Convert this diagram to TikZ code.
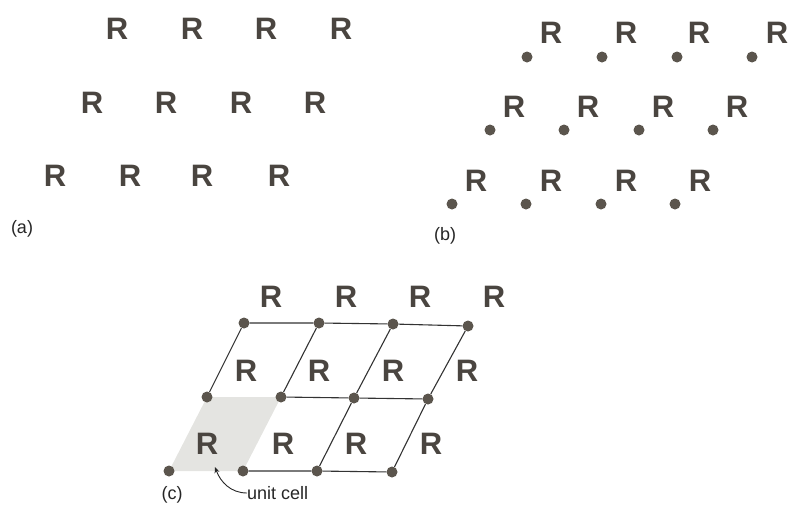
\documentclass[tikz,border=0pt]{standalone}
\usepackage{fontspec}
\setmainfont{Liberation Sans}
\usetikzlibrary{arrows.meta,backgrounds}
\definecolor{ink}{HTML}{4A4540}
\definecolor{dotc}{HTML}{5B554D}
\definecolor{cellfill}{HTML}{E4E4E1}
\begin{document}
\begin{tikzpicture}[x=1pt,y=-1pt,
  motif/.style={font=\bfseries\fontsize{31}{31}\selectfont, text=ink, inner sep=0pt},
  latpt/.style={circle, fill=dotc, minimum size=11pt, inner sep=0pt},
  edge/.style={draw=black!80, line width=1.1pt},
  lbl/.style={font=\fontsize{18}{18}\selectfont, text=black!85, inner sep=0pt}]
\useasboundingbox (0,0) rectangle (797,504);

% (a) the motif alone, repeated
\foreach \x [count=\i] in {117,192,266,341} \node[motif] (ar1\i) at (\x,29) {R};
\foreach \x [count=\i] in {92,166,241,315} \node[motif] (ar2\i) at (\x,103) {R};
\foreach \x [count=\i] in {55,130,202,279} \node[motif] (ar3\i) at (\x,176) {R};
\node[lbl] (la) at (22,229) {(a)};

% (b) motif with its lattice point
\foreach \x/\d [count=\i] in {551/527,626/602,699/677,777/752} {
  \node[motif] (br1\i) at (\x,33) {R};
  \node[latpt] (bp1\i) at (\d,57) {};
}
\foreach \x/\d [count=\i] in {514/490,588/564,663/639,737/713} {
  \node[motif] (br2\i) at (\x,107) {R};
  \node[latpt] (bp2\i) at (\d,130) {};
}
\foreach \x/\d [count=\i] in {476/452,551/526,626/601,700/675} {
  \node[motif] (br3\i) at (\x,181) {R};
  \node[latpt] (bp3\i) at (\d,204) {};
}
\node[lbl] (lb) at (445,236) {(b)};

% (c) lattice with unit cell
\foreach \x [count=\i] in {271,346,420,494} \node[motif] (cr1\i) at (\x,297) {R};
\foreach \x [count=\i] in {246,319,393,467} \node[motif] (cr2\i) at (\x,371) {R};
\foreach \x [count=\i] in {207,283,356,431} \node[motif] (cr3\i) at (\x,444) {R};

\node[latpt] (p11) at (244,323) {};
\node[latpt] (p12) at (319,323) {};
\node[latpt] (p13) at (393,324) {};
\node[latpt] (p14) at (468,326) {};
\node[latpt] (p21) at (207,397) {};
\node[latpt] (p22) at (281,397) {};
\node[latpt] (p23) at (354,398) {};
\node[latpt] (p24) at (428,399) {};
\node[latpt] (p31) at (169,471) {};
\node[latpt] (p32) at (243,471) {};
\node[latpt] (p33) at (317,471) {};
\node[latpt] (p34) at (392,472) {};

\begin{scope}[on background layer]
  \fill[cellfill] (p31.center) -- (p21.center) -- (p22.center) -- (p32.center) -- cycle;
\end{scope}

\draw[edge] (p11) -- (p12) -- (p13) -- (p14);
\draw[edge] (p22) -- (p23) -- (p24);
\draw[edge] (p32) -- (p33) -- (p34);
\draw[edge] (p11) -- (p21);
\draw[edge] (p12) -- (p22);
\draw[edge] (p13) -- (p23) -- (p33);
\draw[edge] (p14) -- (p24) -- (p34);

\node[lbl, anchor=west] (uc) at (247,493) {unit cell};
\coordinate (uctip) at (215,467);
\draw[black!85, line width=0.9pt, -{Stealth[length=6pt,width=5pt]}] (uc.west) to[out=180,in=-70] (uctip);
\node[lbl] (lc) at (172,495) {(c)};
\end{tikzpicture}
\end{document}
